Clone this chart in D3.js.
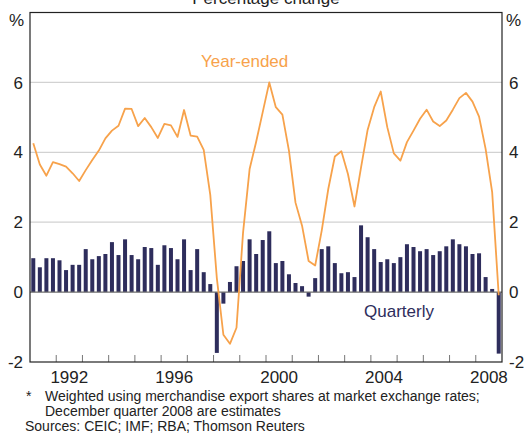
<!DOCTYPE html>
<html>
<head>
<meta charset="utf-8">
<script src="https://cdn.jsdelivr.net/npm/d3@7"></script>
<style>
  html, body { margin: 0; padding: 0; background: #fff; }
  svg { display: block; }
  text { font-family: "Liberation Sans", Arial, sans-serif; }
</style>
</head>
<body>
<script>
// ---- Data ----
const startYear = 1991;
const quarterly = [
  0.97, 0.71, 0.97, 0.97,
  0.91, 0.63, 0.78, 0.78,
  1.23, 0.94, 1.03, 1.09,
  1.43, 1.06, 1.51, 1.06,
  0.94, 1.29, 1.26, 0.78,
  1.34, 1.26, 0.94, 1.51,
  0.63, 1.23, 0.57, 0.23,
  -1.74, -0.33, 0.29, 0.74,
  0.89, 1.51, 1.09, 1.49,
  1.74, 0.83, 0.89, 0.51,
  0.26, 0.17, -0.13, 0.40,
  1.23, 1.31, 0.83, 0.54,
  0.57, 0.43, 1.91, 1.57,
  1.23, 0.86, 0.94, 0.83,
  1.00, 1.37, 1.29, 1.17,
  1.23, 1.06, 1.17, 1.31,
  1.51, 1.37, 1.31, 1.09,
  1.11, 0.43, 0.09, -1.76
];
const yearEnded = [
  4.26, 3.65, 3.33, 3.72,
  3.66, 3.59, 3.40, 3.18,
  3.49, 3.78, 4.05, 4.40,
  4.62, 4.76, 5.25, 5.24,
  4.75, 4.98, 4.72, 4.41,
  4.81, 4.77, 4.44, 5.21,
  4.48, 4.45, 4.07, 2.78,
  0.40, -1.22, -1.48, -1.02,
  1.70, 3.52, 4.30, 5.15,
  6.00, 5.29, 5.08, 4.05,
  2.56, 1.90, 0.89, 0.76,
  1.76, 2.95, 3.88, 4.03,
  3.38, 2.45, 3.57, 4.64,
  5.29, 5.74, 4.72, 3.97,
  3.76, 4.29, 4.62, 4.96,
  5.22, 4.88, 4.75, 4.91,
  5.22, 5.55, 5.70, 5.45,
  5.02, 4.10, 2.86, -0.09
];
const yTicks = [-2, 0, 2, 4, 6];
const gridValues = [2, 4, 6];
const yearLabels = [1992, 1996, 2000, 2004, 2008];
const yearTicks = d3.range(1992, 2009);
const title = "Percentage change";
const unitLabel = "%";
const lineLabel = "Year-ended";
const barLabel = "Quarterly";
const notes = [
  { sym: "*", text: "Weighted using merchandise export shares at market exchange rates;" },
  { sym: "", text: "December quarter 2008 are estimates" }
];
const sources = "Sources: CEIC; IMF; RBA; Thomson Reuters";

// ---- Layout ----
const W = 525, H = 436;
const L = 30, R = 502, T = 12.5, B = 362;
const navy = "#2e2d5c", orange = "#f7a24b";

const svg = d3.select("body").append("svg").attr("width", W).attr("height", H);

const x = d3.scaleLinear().domain([1991, 2009]).range([L, R]);
const y = d3.scaleLinear().domain([-2, 8]).range([B, T]);

const t = i => startYear + i / 4 + 0.125; // quarter midpoint
const bw = 4;

// gridlines
svg.append("g").selectAll("line").data(gridValues).join("line")
  .attr("x1", L).attr("x2", R)
  .attr("y1", d => y(d)).attr("y2", d => y(d))
  .attr("stroke", "#d2d2d2").attr("stroke-width", 1.3);

// bars
svg.append("g").selectAll("rect").data(quarterly).join("rect")
  .attr("x", (d, i) => x(t(i)) - bw / 2)
  .attr("width", bw)
  .attr("y", d => y(Math.max(0, d)))
  .attr("height", d => Math.abs(y(d) - y(0)))
  .attr("fill", navy);

// zero line
svg.append("line")
  .attr("x1", L).attr("x2", R).attr("y1", y(0)).attr("y2", y(0))
  .attr("stroke", "#6e6e6e").attr("stroke-width", 1.2);

// year-ended line
svg.append("path")
  .datum(yearEnded)
  .attr("fill", "none")
  .attr("stroke", orange)
  .attr("stroke-width", 1.8)
  .attr("stroke-linejoin", "round")
  .attr("d", d3.line().x((d, i) => x(t(i))).y(d => y(d)));

// bottom ticks (inward)
svg.append("g").selectAll("line").data(yearTicks).join("line")
  .attr("x1", d => x(d)).attr("x2", d => x(d))
  .attr("y1", B).attr("y2", B - 7)
  .attr("stroke", "#777").attr("stroke-width", 1);

// frame
svg.append("rect")
  .attr("x", L).attr("y", T).attr("width", R - L).attr("height", B - T)
  .attr("fill", "none").attr("stroke", "#222").attr("stroke-width", 1.2);

// y tick labels
const fs = 17;
svg.append("g").selectAll("text").data(yTicks).join("text")
  .attr("x", L - 7).attr("y", d => y(d)).attr("dy", "0.36em")
  .attr("text-anchor", "end").attr("font-size", fs).attr("fill", "#222")
  .text(d => d);
svg.append("g").selectAll("text").data(yTicks).join("text")
  .attr("x", R + 7).attr("y", d => y(d)).attr("dy", "0.36em")
  .attr("text-anchor", "start").attr("font-size", fs).attr("fill", "#222")
  .text(d => d);

// % labels
svg.append("text").attr("x", L - 6).attr("y", 26).attr("text-anchor", "end")
  .attr("font-size", fs).attr("fill", "#222").text(unitLabel);
svg.append("text").attr("x", R + 4).attr("y", 26).attr("text-anchor", "start")
  .attr("font-size", fs).attr("fill", "#222").text(unitLabel);

// title (partially cut at top, as in the reference)
svg.append("text").attr("x", 266).attr("y", 3.5).attr("text-anchor", "middle")
  .attr("font-size", 17).attr("fill", "#222").text(title);

// year labels
svg.append("g").selectAll("text").data(yearLabels).join("text")
  .attr("x", d => x(d + 0.5)).attr("y", 383)
  .attr("text-anchor", "middle").attr("font-size", fs).attr("fill", "#222")
  .text(d => d);

// series labels
svg.append("text").attr("x", 201).attr("y", 67).attr("font-size", 17)
  .attr("fill", orange).text(lineLabel);
svg.append("text").attr("x", 364).attr("y", 317).attr("font-size", 17)
  .attr("fill", navy).text(barLabel);

// notes
const nfs = 14;
notes.forEach((n, k) => {
  const yy = 401 + k * 15;
  if (n.sym) svg.append("text").attr("x", 26).attr("y", yy).attr("font-size", nfs).attr("fill", "#222").text(n.sym);
  svg.append("text").attr("x", 45).attr("y", yy).attr("font-size", nfs).attr("fill", "#222").text(n.text);
});
svg.append("text").attr("x", 25).attr("y", 431).attr("font-size", nfs).attr("fill", "#222").text(sources);
</script>
</body>
</html>
